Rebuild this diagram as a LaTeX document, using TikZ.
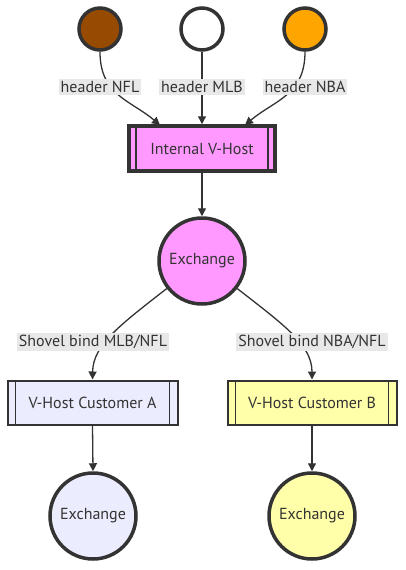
\documentclass[tikz,border=0pt]{standalone}
\usepackage{fontspec}
\setmainfont{PT Sans}
\usetikzlibrary{arrows.meta,shapes.geometric}
\definecolor{strk}{HTML}{333333}
\definecolor{nflc}{HTML}{964B00}
\definecolor{nbac}{HTML}{FFA500}
\definecolor{pinkc}{HTML}{FF99FF}
\definecolor{lavc}{HTML}{ECECFF}
\definecolor{yelc}{HTML}{FFFFAA}
\definecolor{lblc}{HTML}{E8E8E8}
\tikzset{
  dot/.style={circle,draw=strk,line width=3.5pt,minimum size=42pt,inner sep=0pt},
  exch/.style={circle,draw=strk,line width=3.5pt,minimum size=86pt,inner sep=0pt,text=strk,font=\fontsize{16}{18}\selectfont},
  sub/.style={rectangle,draw=strk,text=strk,inner sep=0pt,font=\fontsize{16}{18}\selectfont},
  lbl/.style={fill=lblc,text=strk,inner sep=2pt,font=\fontsize{16}{18}\selectfont},
  conn/.style={draw=strk,line width=1.3pt,-{Triangle[length=8pt,width=8pt]}}
}
\begin{document}
\begin{tikzpicture}[x=1pt,y=-1pt]
\useasboundingbox (0,0) rectangle (405,570);
% top circles
\node[dot,fill=nflc] (nfl) at (100,29) {};
\node[dot,fill=white] (mlb) at (202,29) {};
\node[dot,fill=nbac] (nba) at (305,29) {};
% internal vhost
\node[sub,fill=pinkc,line width=3.5pt,minimum width=146pt,minimum height=45pt] (ivh) at (202,148.5) {Internal V-Host};
\draw[strk,line width=2pt] ([xshift=9pt]ivh.north west) -- ([xshift=9pt]ivh.south west);
\draw[strk,line width=2pt] ([xshift=-9pt]ivh.north east) -- ([xshift=-9pt]ivh.south east);
% exchange
\node[exch,fill=pinkc] (ex) at (202,261) {Exchange};
% customers
\node[sub,fill=lavc,line width=2pt,minimum width=170pt,minimum height=44pt] (ca) at (92.5,402.5) {V-Host Customer A};
\draw[strk,line width=1.5pt] ([xshift=9pt]ca.north west) -- ([xshift=9pt]ca.south west);
\draw[strk,line width=1.5pt] ([xshift=-9pt]ca.north east) -- ([xshift=-9pt]ca.south east);
\node[sub,fill=yelc,line width=2pt,minimum width=169pt,minimum height=44pt] (cb) at (312,402.5) {V-Host Customer B};
\draw[strk,line width=1.5pt] ([xshift=9pt]cb.north west) -- ([xshift=9pt]cb.south west);
\draw[strk,line width=1.5pt] ([xshift=-9pt]cb.north east) -- ([xshift=-9pt]cb.south east);
% bottom exchanges
\node[exch,fill=lavc] (exa) at (93,516) {Exchange};
\node[exch,fill=yelc] (exb) at (312,516) {Exchange};
% connectors
\coordinate (ivhl) at (160,125);
\coordinate (ivhr) at (245,125);
\draw[conn] (nfl.south) .. controls (100,95) and (130,100) .. (ivhl);
\draw[conn] (mlb.south) -- (ivh.north);
\draw[conn] (nba.south) .. controls (305,95) and (275,100) .. (ivhr);
\draw[conn] (ivh.south) -- (ex.north);
\draw[conn] (ex.218) .. controls (120,325) and (93,345) .. (ca.north);
\draw[conn] (ex.322) .. controls (284,325) and (312,345) .. (cb.north);
\draw[conn] (ca.south) -- (exa.north);
\draw[conn] (cb.south) -- (exb.north);
% labels
\node[lbl] (l1) at (100,87) {header NFL};
\node[lbl] (l2) at (202,87) {header MLB};
\node[lbl] (l3) at (305,87) {header NBA};
\node[lbl] (l4) at (93,342) {Shovel bind MLB/NFL};
\node[lbl] (l5) at (312,342) {Shovel bind NBA/NFL};
\end{tikzpicture}
\end{document}
